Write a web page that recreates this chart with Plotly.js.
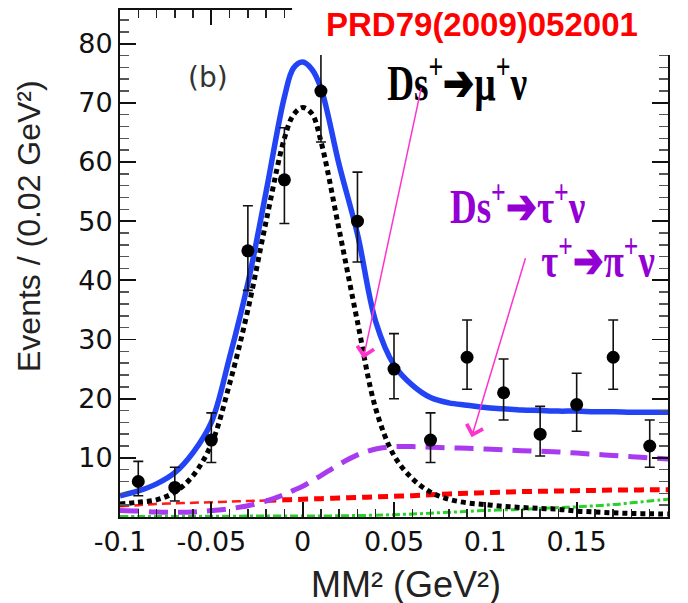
<!DOCTYPE html>
<html>
<head>
<meta charset="utf-8">
<script src="https://cdn.plot.ly/plotly-3.0.1.min.js"></script>
<style>
html,body{margin:0;padding:0;background:#fff;}
#chart{width:688px;height:603px;}
</style>
</head>
<body>
<div id="chart"></div>
<script>
// ---- data points (events per 0.02 GeV^2 bin) ----
var binCenters = [-0.09,-0.07,-0.05,-0.03,-0.01,0.01,0.03,0.05,0.07,0.09,0.11,0.13,0.15,0.17,0.19];
var events     = [6,5,13,45,57,72,50,25,13,27,21,14,19,27,12];
var errUp      = [3.4,3.4,4.6,7.6,8.8,8.6,8.3,6.0,4.6,6.3,5.7,4.7,5.3,6.3,4.4];
var errDown    = [2.4,2.3,3.8,6.7,7.4,8.6,6.9,5.0,3.8,5.4,4.6,3.7,4.5,5.4,3.6];

// ---- fit curves, read at these MM^2 values ----
var curveX = [-0.1,-0.09,-0.08,-0.07,-0.06,-0.05,-0.04,-0.03,-0.02,-0.01,-0.005,0,0.005,0.01,0.02,0.03,0.04,0.05,0.06,0.07,0.08,0.09,0.1,0.11,0.12,0.13,0.14,0.15,0.16,0.17,0.18,0.19,0.2];
var totalFit = [3.6,4.4,5.6,7.5,10.9,16.0,27.0,39.5,55.0,71.0,75.9,76.9,75.7,72.5,59.5,47.8,33.0,25.7,22.3,20.2,19.3,18.9,18.5,18.3,18.1,18.0,17.9,17.9,17.8,17.8,17.7,17.7,17.7];
var muNu     = [2.2,2.5,2.9,4.2,7.0,12.3,22.5,35.0,50.0,64.0,68.0,69.2,68.2,63.5,48.5,33.0,18.3,10.4,6.5,4.2,3.0,2.4,2.1,1.8,1.6,1.45,1.3,1.0,0.85,0.7,0.6,0.55,0.5];
var tauPiNu  = [1.1,1.0,0.85,0.8,0.85,1.1,1.4,1.9,2.7,3.8,4.5,5.2,6.1,7.0,8.9,10.5,11.5,11.9,11.9,11.8,11.7,11.6,11.5,11.35,11.2,11.1,11.0,10.8,10.6,10.4,10.2,10.0,9.8];
var bkgRed   = [1.8,2.0,2.2,2.3,2.4,2.5,2.6,2.7,2.8,2.9,2.95,3.0,3.05,3.1,3.2,3.3,3.4,3.5,3.6,3.75,3.9,4.0,4.1,4.2,4.3,4.35,4.4,4.45,4.5,4.55,4.55,4.6,4.6];
var bkgGreen = [0.1,0.1,0.1,0.1,0.1,0.12,0.13,0.15,0.15,0.15,0.15,0.15,0.16,0.17,0.2,0.25,0.3,0.4,0.5,0.65,0.8,0.95,1.1,1.2,1.3,1.45,1.6,1.7,1.9,2.1,2.4,2.7,3.0];

// ---- axis tick labels ----
var xTickVals = [-0.1,-0.05,0,0.05,0.1,0.15,0.2];
var xTickText = ['-0.1','-0.05','0','0.05','0.1','0.15','0.2'];
var yTickVals = [10,20,30,40,50,60,70,80];
var yTickText = ['10','20','30','40','50','60','70','80'];

// red background drawn thin on the left, thick from this index on
var redSplit = 8;

var traces = [
  {x: curveX, y: bkgGreen, mode:'lines', line:{color:'#2BD12B', width:3, dash:'8px,3px,3px,3px', shape:'spline'}, hoverinfo:'skip'},
  {x: curveX.slice(0, redSplit+1), y: bkgRed.slice(0, redSplit+1), mode:'lines', line:{color:'#FF1A1A', width:2.5, dash:'9px,5px', shape:'spline'}, hoverinfo:'skip'},
  {x: curveX.slice(redSplit), y: bkgRed.slice(redSplit), mode:'lines', line:{color:'#FF0000', width:5, dash:'10px,6px', shape:'spline'}, hoverinfo:'skip'},
  {x: curveX, y: tauPiNu, mode:'lines', line:{color:'#A83BF0', width:5, dash:'19px,10px', shape:'spline'}, hoverinfo:'skip'},
  {x: curveX, y: totalFit, mode:'lines', line:{color:'#2244F5', width:5.5, shape:'spline'}, hoverinfo:'skip'},
  {x: curveX, y: muNu, mode:'lines', line:{color:'#000000', width:5, dash:'5px,4px', shape:'spline'}, hoverinfo:'skip'},
  {x: binCenters, y: events, mode:'markers', marker:{color:'#000', size:13},
   error_y:{type:'data', symmetric:false, array:errUp, arrayminus:errDown, color:'#111', thickness:1.6, width:5}}
];

var fontSans = 'Liberation Sans, Arial, Helvetica, sans-serif';
var fontSerif = 'Liberation Serif, Times New Roman, serif';

var layout = {
  width: 688, height: 603,
  margin: {l:120, r:20, t:10, b:86},
  paper_bgcolor: '#fff', plot_bgcolor: '#fff',
  showlegend: false,
  xaxis: {
    range: [-0.1, 0.2], showgrid:false, zeroline:false,
    showline:true, linecolor:'#111', linewidth:2, mirror:'allticks',
    ticks:'inside', ticklen:15, tickwidth:1.8, tickcolor:'#111',
    tickmode:'array', tickvals:xTickVals, ticktext:xTickText,
    tickfont:{family:'DejaVu Sans, sans-serif', size:27, color:'#111'},
    minor:{ticks:'inside', tickmode:'linear', tick0:-0.1, dtick:0.01, ticklen:8, tickwidth:1.5, tickcolor:'#222'}
  },
  yaxis: {
    range: [0, 85.7], showgrid:false, zeroline:false,
    showline:true, linecolor:'#111', linewidth:2, mirror:'allticks',
    ticks:'inside', ticklen:16, tickwidth:1.8, tickcolor:'#111',
    tickmode:'array', tickvals:yTickVals, ticktext:yTickText,
    tickfont:{family:'DejaVu Sans, sans-serif', size:27, color:'#111'},
    minor:{ticks:'inside', tickmode:'linear', tick0:0, dtick:2, ticklen:9, tickwidth:1.5, tickcolor:'#555'}
  },
  shapes: [
    {type:'rect', xref:'paper', yref:'paper', x0:0.314, x1:1.1, y0:0.9112, y1:1.1, fillcolor:'#fff', line:{width:0}, layer:'above'}
  ],
  annotations: [
    {text:'Events / (0.02 GeV²)', xref:'paper', yref:'paper', x:-0.166, y:0.574, textangle:-90, showarrow:false,
     font:{family:fontSans, size:32, color:'#222'}, xanchor:'center', yanchor:'middle'},
    {text:'MM² (GeV²)', xref:'paper', yref:'paper', x:0.5228, y:-0.134, showarrow:false,
     font:{family:fontSans, size:36, color:'#222'}, xanchor:'center', yanchor:'middle'},
    {text:'(b)', xref:'paper', yref:'paper', x:0.1597, y:0.867, showarrow:false,
     font:{family:'DejaVu Sans, sans-serif', size:28, color:'#333'}, xanchor:'center', yanchor:'middle'},
    {text:'<b>PRD79(2009)052001</b>', xref:'paper', yref:'paper', x:0.6606, y:0.972, showarrow:false,
     font:{family:fontSans, size:33, color:'#FF0000'}, xanchor:'center', yanchor:'middle'},
    {text:'<b>Ds<sup>+</sup>➔μ<sup>+</sup>ν</b>', xref:'paper', yref:'paper', x:0.6144, y:0.862, showarrow:false,
     font:{family:fontSerif, size:50, color:'#000'}, xanchor:'center', yanchor:'middle'},
    {text:'<b>Ds<sup>+</sup>➔τ<sup>+</sup>ν</b>', xref:'paper', yref:'paper', x:0.7254, y:0.620, showarrow:false,
     font:{family:fontSerif, size:48, color:'#9400D3'}, xanchor:'center', yanchor:'middle'},
    {text:'<b>τ<sup>+</sup>➔π<sup>+</sup>ν</b>', xref:'paper', yref:'paper', x:0.8728, y:0.513, showarrow:false,
     font:{family:fontSerif, size:48, color:'#9400D3'}, xanchor:'center', yanchor:'middle'},
    {text:'', x:0.0332, y:26.8, ax:0.0651, ay:72.8, axref:'x', ayref:'y', xref:'x', yref:'y',
     showarrow:true, arrowhead:4, arrowsize:2.2, arrowwidth:1.5, arrowcolor:'#FF33CC'},
    {text:'', x:0.0925, y:13.5, ax:0.1222, ay:44.0, axref:'x', ayref:'y', xref:'x', yref:'y',
     showarrow:true, arrowhead:4, arrowsize:2.2, arrowwidth:1.5, arrowcolor:'#FF33CC'}
  ]
};

// target widths (px) of the condensed serif labels
var labelWidths = {4:140, 5:135, 6:113};

Plotly.newPlot('chart', traces, layout, {staticPlot:true, displayModeBar:false}).then(function(gd){
  Object.keys(labelWidths).forEach(function(idx){
    var g = gd.querySelector('.annotation[data-index="' + idx + '"] text.annotation-text');
    if(!g) return;
    var bb = g.getBBox();
    if(!bb || !bb.width) return;
    var k = labelWidths[idx] / bb.width;
    g.style.transformBox = 'fill-box';
    g.style.transformOrigin = 'center';
    g.style.transform = 'scale(' + k.toFixed(3) + ',1)';
  });
});
</script>
</body>
</html>
